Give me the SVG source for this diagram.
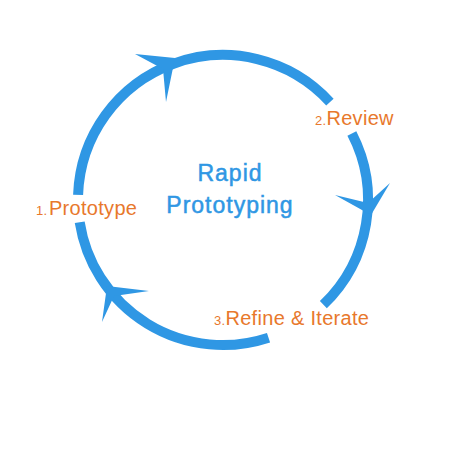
<svg xmlns="http://www.w3.org/2000/svg" width="450" height="450" viewBox="0 0 450 450">
  <style>
    .arc { fill: none; stroke: #2f97e4; stroke-width: 10; stroke-linecap: butt; }
    .head { fill: #2f97e4; stroke: none; }
    .step { font-family: "Liberation Sans", Arial, sans-serif; font-size: 20px; fill: #e8782c; letter-spacing: 0.3px; }
    .num { font-size: 13px; }
    .title { font-family: "Liberation Sans", Arial, sans-serif; font-size: 23px; fill: #2f97e4; stroke: #2f97e4; stroke-width: 0.5; letter-spacing: 1px; text-anchor: middle; }
  </style>
  <rect width="450" height="450" fill="#ffffff"/>
  <g id="connectors">
    <path class="arc" d="M78.09,194.94 A145,145 0 0 1 329.91,102.04"/>
    <path class="arc" d="M351.85,133.5 A145,145 0 0 1 323.36,304.66"/>
    <path class="arc" d="M268.53,337.67 A145,145 0 0 1 79.71,222.18"/>
    <polygon class="head" points="175,58 135,54 163,69 166,102"/>
    <polygon class="head" points="371,215 335,195 368,203 390,183"/>
    <polygon class="head" points="107,286 149,291 114,296 102,322"/>
  </g>
  <g id="center">
    <text class="title" x="230" y="181">Rapid</text>
    <text class="title" x="230" y="213">Prototyping</text>
  </g>
  <g id="step1">
    <text class="step" x="36" y="215"><tspan class="num">1.</tspan><tspan dx="1.5">Prototype</tspan></text>
  </g>
  <g id="step2">
    <text class="step" x="315" y="125"><tspan class="num">2.</tspan>Review</text>
  </g>
  <g id="step3">
    <text class="step" x="214" y="325"><tspan class="num">3.</tspan>Refine &amp; Iterate</text>
  </g>
</svg>
